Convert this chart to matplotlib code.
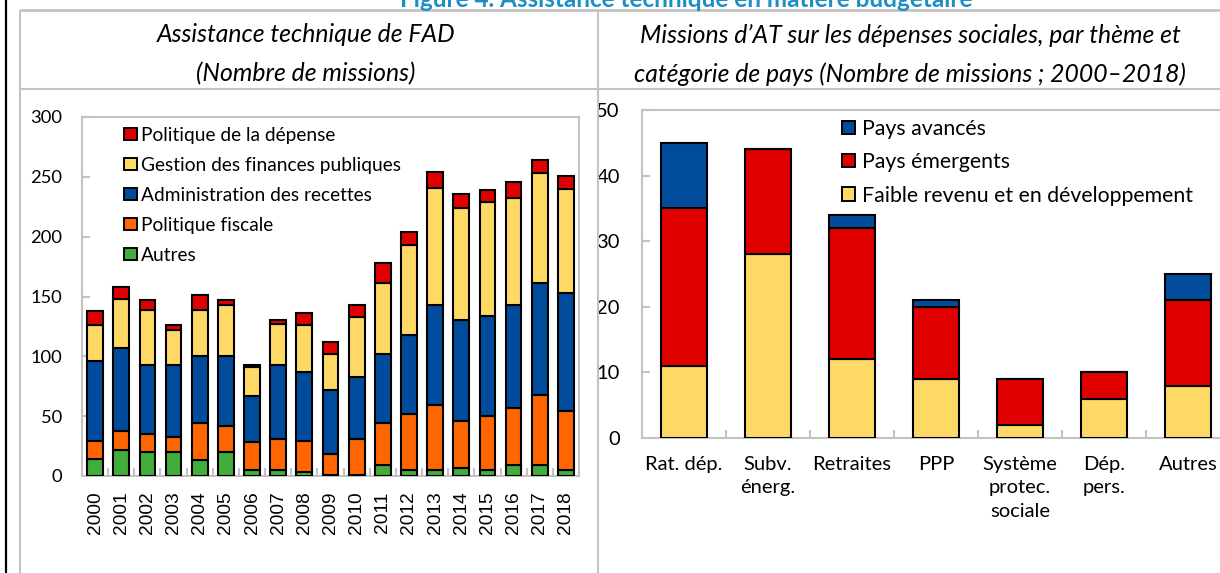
import matplotlib
matplotlib.use('Agg')
import matplotlib.pyplot as plt
from matplotlib.patches import Patch
from matplotlib.lines import Line2D
import numpy as np

# ---------------- data ----------------
years = [str(y) for y in range(2000, 2019)]
autres = [14, 22, 20, 20, 13, 20, 5, 5, 3, 1, 1, 9, 5, 5, 7, 5, 9, 9, 5]
pol_fiscale = [15, 16, 15, 13, 31, 22, 23, 26, 26, 17, 30, 35, 47, 54, 39, 45, 48, 59, 49]
admin_recettes = [67, 69, 58, 60, 56, 58, 39, 62, 58, 54, 52, 58, 66, 84, 84, 84, 86, 93, 99]
gestion_fp = [30, 41, 46, 29, 39, 43, 24, 34, 39, 30, 50, 59, 75, 98, 94, 95, 89, 92, 87]
pol_depense = [12, 10, 8, 4, 12, 4, 2, 3, 10, 10, 10, 17, 11, 13, 12, 10, 14, 11, 11]
left_series_names = ["Autres", "Politique fiscale", "Administration des recettes",
                     "Gestion des finances publiques", "Politique de la dépense"]

themes = ["Rat. dép.", "Subv.\nénerg.", "Retraites", "PPP",
          "Système\nprotec.\nsociale", "Dép.\npers.", "Autres"]
faible_revenu = [11, 28, 12, 9, 2, 6, 8]
emergents = [24, 16, 20, 11, 7, 4, 13]
avances = [10, 0, 2, 1, 0, 0, 4]
right_series_names = ["Faible revenu et en développement", "Pays émergents", "Pays avancés"]

left_yticks = [0, 50, 100, 150, 200, 250, 300]
right_yticks = [0, 10, 20, 30, 40, 50]

# ---------------- style ----------------
RED = "#e00000"
YELLOW = "#ffd966"
BLUE = "#004b9b"
ORANGE = "#ff6600"
GREEN = "#41ad3a"
GRAY = "#c3c3c3"
FONT = "Lato"

W, H = 1220, 573
fig = plt.figure(figsize=(W / 100, H / 100), dpi=100)


def px(x, y):
    return x / W, 1 - y / H


def add_line(x0, y0, x1, y1, color=GRAY, lw=1.5):
    (a, b), (c, d) = px(x0, y0), px(x1, y1)
    fig.add_artist(Line2D([a, c], [b, d], transform=fig.transFigure,
                          color=color, lw=lw, solid_capstyle='butt'))


def axes_px(left, top, right, bottom):
    return fig.add_axes([left / W, 1 - bottom / H, (right - left) / W, (bottom - top) / H])


# panel decorations
add_line(6, 0, 6, 573, color="black", lw=1.6)
add_line(20, 10, 1220, 10, lw=2)
add_line(20, 10, 20, 573, lw=1.5)
add_line(598, 10, 598, 573, lw=1.5)
add_line(20, 89, 1220, 89, lw=1.5)

fig.text(686 / W, 1 - 7 / H, "Figure 4. Assistance technique en matière budgétaire",
         ha='center', va='baseline', color="#1b8fc6", fontsize=17.5, fontweight='bold',
         family=FONT)

SUB = 17.8
fig.text(306 / W, 1 - 35 / H, "Assistance technique de FAD", ha='center', va='center',
         fontsize=SUB, style='italic', family=FONT)
fig.text(306 / W, 1 - 74 / H, "(Nombre de missions)", ha='center', va='center',
         fontsize=SUB, style='italic', family=FONT)
fig.text(910 / W, 1 - 35 / H, "Missions d’AT sur les dépenses sociales, par thème et",
         ha='center', va='center', fontsize=SUB, style='italic', family=FONT)
fig.text(910 / W, 1 - 74 / H, "catégorie de pays (Nombre de missions ; 2000–2018)",
         ha='center', va='center', fontsize=SUB, style='italic', family=FONT)

# ---------------- left chart ----------------
ax1 = axes_px(82, 117, 579, 476)
x1 = np.arange(len(years))
bottom = np.zeros(len(years))
colors_left = [GREEN, ORANGE, BLUE, YELLOW, RED]
for vals, col, name in zip([autres, pol_fiscale, admin_recettes, gestion_fp, pol_depense],
                           colors_left, left_series_names):
    ax1.bar(x1, vals, bottom=bottom, width=0.6, color=col, edgecolor='black',
            linewidth=1.5, label=name, zorder=3)
    bottom += np.array(vals)

ax1.set_xlim(-0.5, len(years) - 0.5)
ax1.set_ylim(0, 300)
ax1.set_yticks(left_yticks)
ax1.set_yticklabels([str(v) for v in left_yticks], family=FONT, fontsize=13.2)
ax1.set_xticks(x1)
ax1.set_xticklabels(years, rotation=90, family="Liberation Sans", fontsize=13.8)
ax1.set_xticks(np.arange(0.5, len(years) - 1, 1), minor=True)
ax1.tick_params(axis='x', which='major', length=0, pad=11)
ax1.tick_params(axis='x', which='minor', direction='in', length=6, color=GRAY, width=1.5)
ax1.tick_params(axis='y', which='major', direction='in', length=6, color=GRAY, width=1.5,
                pad=14)
for s in ax1.spines.values():
    s.set_color(GRAY)
    s.set_linewidth(1.5)

h1 = [Patch(facecolor=c, edgecolor='black', linewidth=1.4) for c in colors_left][::-1]
l1 = left_series_names[::-1]
ax1.legend(h1, l1, loc='upper left', bbox_to_anchor=(0.085, 0.973), frameon=False,
           borderpad=0, borderaxespad=0, handlelength=0.65, handleheight=0.65,
           handletextpad=0.2, labelspacing=0.68, prop={'family': FONT, 'size': 13.8})

# ---------------- right chart ----------------
ax2 = axes_px(642, 110, 1230, 438)
x2 = np.arange(len(themes))
bottom = np.zeros(len(themes))
colors_right = [YELLOW, RED, BLUE]
for vals, col, name in zip([faible_revenu, emergents, avances], colors_right,
                           right_series_names):
    ax2.bar(x2, vals, bottom=bottom, width=0.54, color=col, edgecolor='black',
            linewidth=1.5, label=name, zorder=3)
    bottom += np.array(vals)

ax2.set_xlim(-0.5, len(themes) - 0.5)
ax2.set_ylim(0, 50)
ax2.set_yticks(right_yticks)
ax2.set_yticklabels([str(v) for v in right_yticks], family=FONT, fontsize=14.5)
ax2.set_xticks(x2)
ax2.set_xticklabels(themes, family=FONT, fontsize=14.5, linespacing=1.45)
ax2.set_xticks(np.arange(0.5, len(themes) - 1, 1), minor=True)
ax2.tick_params(axis='x', which='major', length=0, pad=13)
ax2.tick_params(axis='x', which='minor', direction='in', length=6, color=GRAY, width=1.5)
ax2.tick_params(axis='y', which='major', direction='in', length=6, color=GRAY, width=1.5,
                pad=16)
for s in ax2.spines.values():
    s.set_color(GRAY)
    s.set_linewidth(1.5)

h2 = [Patch(facecolor=c, edgecolor='black', linewidth=1.4) for c in colors_right][::-1]
l2 = right_series_names[::-1]
ax2.legend(h2, l2, loc='upper left', bbox_to_anchor=(0.34, 0.973), frameon=False,
           borderpad=0, borderaxespad=0, handlelength=0.6, handleheight=0.6,
           handletextpad=0.35, labelspacing=0.63, prop={'family': FONT, 'size': 15.3})

fig.savefig("out.png", dpi=100)
